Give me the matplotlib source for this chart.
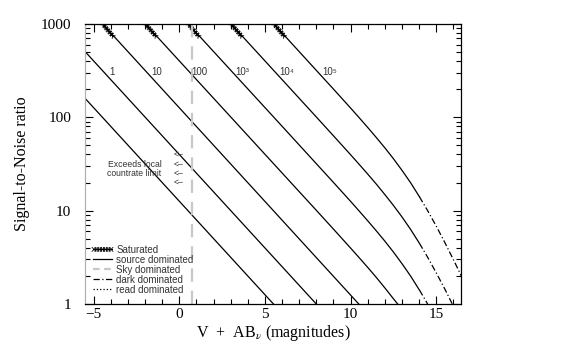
import numpy as np
import matplotlib.pyplot as plt
import matplotlib.patheffects as pe
from matplotlib.lines import Line2D
from matplotlib.ticker import FixedLocator, NullFormatter

plt.rcParams['mathtext.fontset'] = 'stix'

# S/N curves for each exposure time
exptimes = [0.1, 1, 10, 100, 1e3, 1e4, 1e5]
src_mag = [
    [-5.5, 5.5],
    [-5.5, 8.0],
    [-4.47, 10.48],
    [-1.97, 8, 9, 10, 10.5, 11, 11.5, 12, 12.5, 12.75],
    [0.53, 6, 8, 9, 10, 10.5, 11, 11.5, 12, 12.5, 13, 13.5, 14.02],
    [3.03, 8, 9, 10, 10.5, 11, 11.5, 12, 12.5, 13, 13.5, 14.02],
    [5.53, 8, 9, 10, 10.5, 11, 11.5, 12, 12.5, 13, 13.5, 14.02],
]
src_snr = [
    [160, 1.0],
    [507, 1.0],
    [1000, 1.0],
    [1000, 10.1, 6.35, 3.98, 3.14, 2.47, 1.93, 1.49, 1.14, 1.0],
    [1000, 80.4, 31.9, 20.1, 12.6, 9.93, 7.8, 6.09, 4.72, 3.61, 2.71, 2.0, 1.41],
    [1000, 101, 63.5, 39.8, 31.4, 24.7, 19.3, 14.9, 11.4, 8.58, 6.32, 4.47],
    [1000, 319, 201, 126, 99.3, 78, 60.9, 47.2, 36.1, 27.1, 20.0, 14.1],
]
dark_mag = [[], [], [], [],
            [14.02, 14.25, 14.5],
            [14.02, 14.5, 15, 15.5, 15.94],
            [14.02, 14.5, 15, 15.5, 16, 16.5]]
dark_snr = [[], [], [], [],
            [1.41, 1.2, 1.0],
            [4.47, 3.17, 2.16, 1.45, 1.0],
            [14.1, 10.0, 6.84, 4.57, 3.0, 1.94]]

# saturated stretches at the top of the lines
sat_mag_start = [-4.47, -1.97, 0.53, 3.03, 5.53]
sat_mag_end = [-3.85, -1.35, 1.15, 3.65, 6.15]
sat_snr = [1000, 735]

line_labels = ['1', '10', '100', '10\u00b3', '10\u2074', '10\u2075']
label_mags = [-4.07, -1.63, 0.70, 3.26, 5.87, 8.37]
label_snr = 306

limit_mag = 0.75
arrow_snr = [40.5, 31.6, 25.3, 20.3]

fig = plt.figure(figsize=(5.8, 3.59), dpi=100)
ax = fig.add_axes([0.1466, 0.1532, 0.6483, 0.7799])

lw = 0.9
for i in range(len(exptimes)):
    ax.plot(src_mag[i], src_snr[i], color='black', lw=lw)
    if dark_mag[i]:
        ax.plot(dark_mag[i], dark_snr[i], color='black', lw=lw,
                linestyle=(0, (5, 2, 1, 2)))

sat_fx = [pe.withTickedStroke(angle=a, spacing=1.8, length=1.1, linewidth=0.6)
          for a in (45, -135, 135, -45)]
for a, b in zip(sat_mag_start, sat_mag_end):
    ax.plot([a, b], sat_snr, color='black', lw=0.7, path_effects=sat_fx)

ax.axvline(limit_mag, color='#c8c8c8', lw=1.6, linestyle=(0, (6, 4)))

txt = dict(family='Liberation Sans', fontsize=7, color='#333333')
for lab, m in zip(line_labels, label_mags):
    ax.text(m, label_snr, lab, ha='left', va='center', **txt)

note = dict(family='Liberation Sans', fontsize=6.2, color='#333333')
for s in arrow_snr:
    ax.text(-0.3, s, '<\u2013', ha='left', va='center', **note)
ax.text(-1.05, 31.6, 'Exceeds local', ha='right', va='center', **note)
ax.text(-1.05, 25.3, 'countrate limit', ha='right', va='center', **note)

ax.set_yscale('log')
ax.set_xlim(-5.5, 16.45)
ax.set_ylim(1, 1000)

ax.set_xticks([-5, 0, 5, 10, 15])
ax.set_xticklabels(['\u22125', '0', '5', '10', '15'])
ax.xaxis.set_minor_locator(FixedLocator(np.arange(-5, 17, 1)))
ax.set_yticks([1, 10, 100, 1000])
ax.set_yticklabels(['1', '10', '100', '1000'])
ax.yaxis.set_minor_formatter(NullFormatter())

ax.tick_params(which='both', direction='in', top=True, right=True, width=0.8)
ax.tick_params(which='major', length=6)
ax.tick_params(which='minor', length=3.5)
ax.tick_params(axis='x', which='major', pad=3)
ax.tick_params(axis='y', which='major', pad=10)
for lbl in ax.get_xticklabels() + ax.get_yticklabels():
    lbl.set_family('Liberation Serif')
    lbl.set_fontsize(11)
for sp in ax.spines.values():
    sp.set_linewidth(0.9)
ax.spines['left'].set_color('#b0b0b0')

ax.set_xlabel('V  +  AB$_\\nu$ (magnitudes)', family='Liberation Serif',
              fontsize=11.5, labelpad=1)
ax.set_ylabel('Signal-to-Noise ratio', family='Liberation Serif',
              fontsize=11.5, labelpad=8)

handles = [
    Line2D([], [], color='black', lw=0.7, path_effects=sat_fx),
    Line2D([], [], color='black', lw=lw),
    Line2D([], [], color='#c8c8c8', lw=1.6, linestyle=(0, (3, 2))),
    Line2D([], [], color='black', lw=lw, linestyle=(0, (5, 2, 1, 2))),
    Line2D([], [], color='black', lw=lw, linestyle=':'),
]
names = ['Saturated', 'source dominated', 'Sky dominated',
         'dark dominated', 'read dominated']
ax.legend(handles, names, loc='lower left', bbox_to_anchor=(0.0, 0.005),
          frameon=False, handlelength=2.0, handletextpad=0.4,
          labelspacing=0.0, borderpad=0.3,
          prop={'family': 'Liberation Sans', 'size': 7}, labelcolor='#333333')

fig.savefig('out.png', dpi=100)
